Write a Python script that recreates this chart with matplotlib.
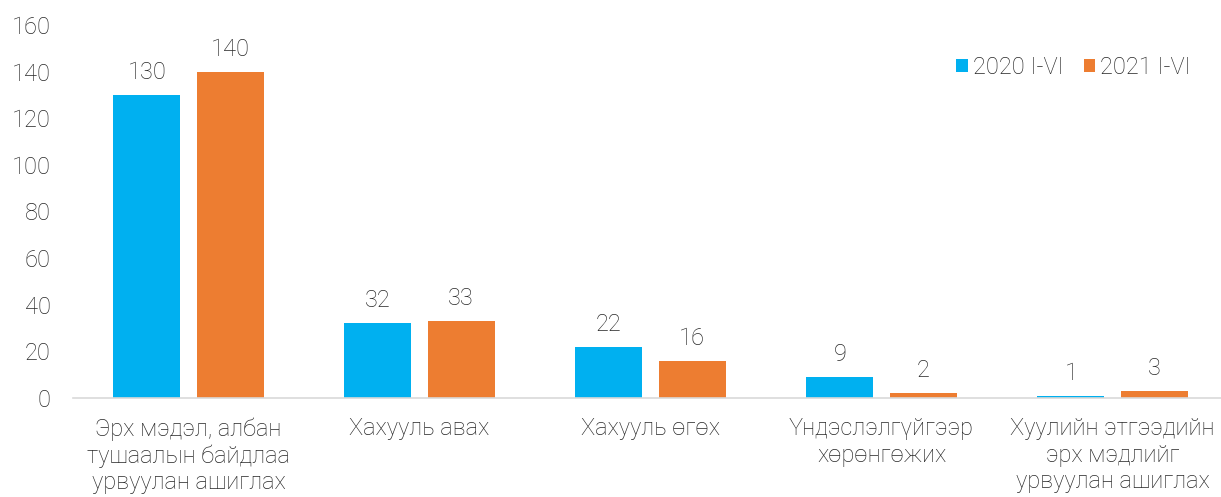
import numpy as np
import matplotlib.pyplot as plt

plt.rcParams['font.family'] = ['Roboto', 'DejaVu Sans']
plt.rcParams['font.weight'] = 'light'

categories = [
    "Эрх мэдэл, албан\nтушаалын байдлаа\nурвуулан ашиглах",
    "Хахууль авах",
    "Хахууль өгөх",
    "Үндэслэлгүйгээр\nхөрөнгөжих",
    "Хуулийн этгээдийн\nэрх мэдлийг\nурвуулан ашиглах",
]
series_2020 = [130, 32, 22, 9, 1]
series_2021 = [140, 33, 16, 2, 3]
labels = ["2020 I-VI", "2021 I-VI"]
yticks = [0, 20, 40, 60, 80, 100, 120, 140, 160]

blue = "#00B0F0"
orange = "#ED7D31"
txt = "#262626"
fs = 17

fig = plt.figure(figsize=(12.21, 4.97), dpi=100)
ax = fig.add_axes([73 / 1221, 1 - 398 / 497, (1228 - 73) / 1221, (398 - 25) / 497])

x = np.arange(len(categories))
w = 0.29
off = 0.18
b1 = ax.bar(x - off, series_2020, w, color=blue, label=labels[0])
b2 = ax.bar(x + off, series_2021, w, color=orange, label=labels[1])

for bars in (b1, b2):
    for r in bars:
        ax.annotate(f"{int(r.get_height())}", (r.get_x() + r.get_width() / 2, r.get_height()),
                    xytext=(0, 8), textcoords="offset points", ha="center", va="bottom",
                    fontsize=fs, color=txt)

ax.set_xlim(-0.5, len(categories) - 0.5)
ax.set_ylim(0, 160)
ax.set_yticks(yticks)
ax.set_xticks(x)
ax.set_xticklabels(categories, fontsize=fs, color=txt, linespacing=1.17)
ax.tick_params(axis="y", length=0, labelsize=fs, labelcolor=txt, pad=16)
ax.tick_params(axis="x", length=0, pad=14)

for s in ("top", "right", "left"):
    ax.spines[s].set_visible(False)
ax.spines["bottom"].set_color("#D9D9D9")
ax.spines["bottom"].set_linewidth(1.2)

ax.legend(loc="center right", bbox_to_anchor=(0.976, 0.887), ncol=2, frameon=False,
          fontsize=fs, handlelength=0.5, handleheight=0.5, handletextpad=0.2,
          columnspacing=0.85, labelcolor=txt, borderaxespad=0)

fig.savefig("out.png", dpi=100)
